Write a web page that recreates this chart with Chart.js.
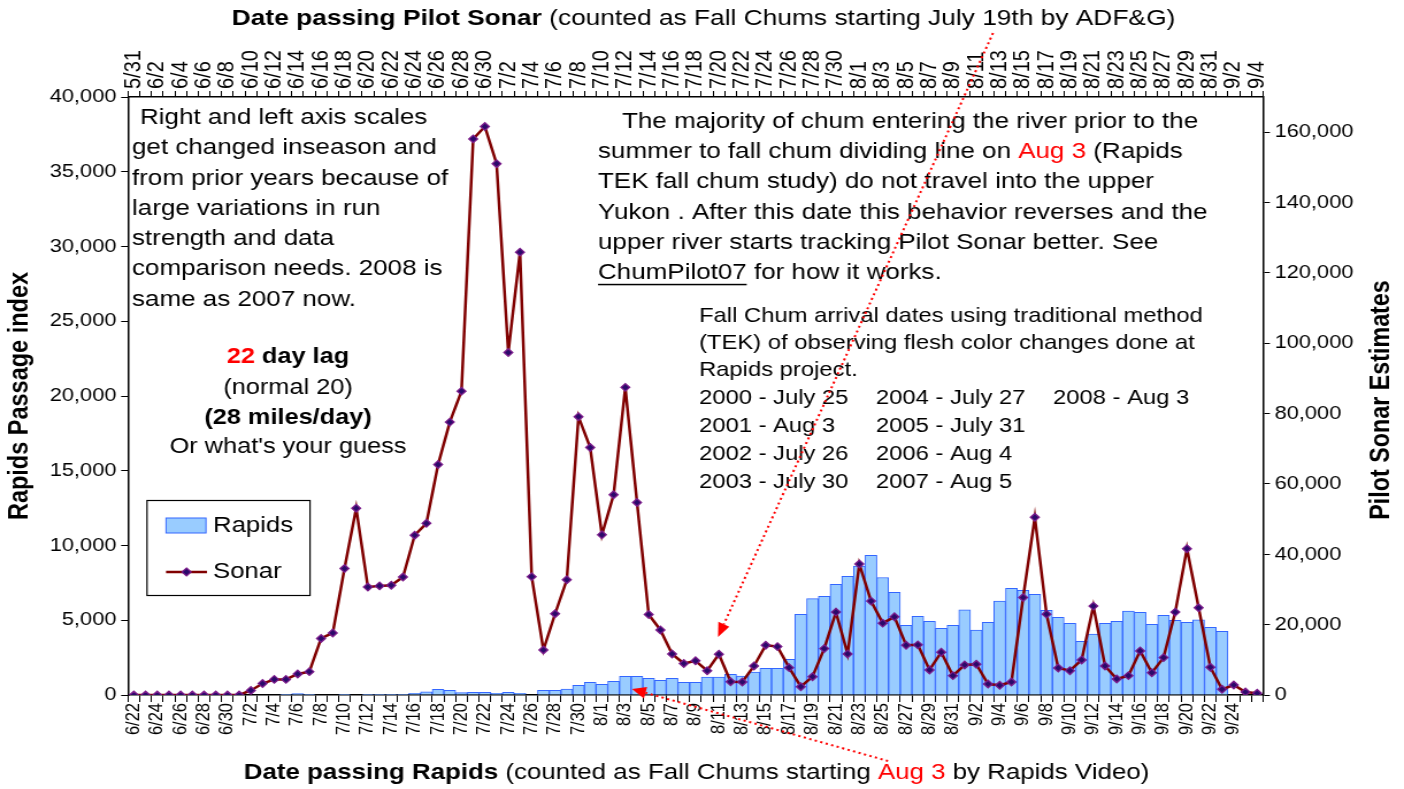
<!DOCTYPE html>
<html><head><meta charset="utf-8">
<script src="https://cdn.jsdelivr.net/npm/chart.js@4/dist/chart.umd.min.js"></script>
<style>html,body{margin:0;padding:0;background:#fff;overflow:hidden}#c{display:block}</style>
</head><body>
<canvas id="c" width="1221" height="789" style="width:1404px;height:789px"></canvas>
<script>
const rapidsDates = ['6/22','6/23','6/24','6/25','6/26','6/27','6/28','6/29','6/30',
 '7/1','7/2','7/3','7/4','7/5','7/6','7/7','7/8','7/9','7/10','7/11','7/12','7/13','7/14','7/15','7/16','7/17','7/18','7/19','7/20','7/21','7/22','7/23','7/24','7/25','7/26','7/27','7/28','7/29','7/30','7/31',
 '8/1','8/2','8/3','8/4','8/5','8/6','8/7','8/8','8/9','8/10','8/11','8/12','8/13','8/14','8/15','8/16','8/17','8/18','8/19','8/20','8/21','8/22','8/23','8/24','8/25','8/26','8/27','8/28','8/29','8/30','8/31',
 '9/1','9/2','9/3','9/4','9/5','9/6','9/7','9/8','9/9','9/10','9/11','9/12','9/13','9/14','9/15','9/16','9/17','9/18','9/19','9/20','9/21','9/22','9/23','9/24','9/25','9/26'];
const sonarDates = ['5/31',
 '6/1','6/2','6/3','6/4','6/5','6/6','6/7','6/8','6/9','6/10','6/11','6/12','6/13','6/14','6/15','6/16','6/17','6/18','6/19','6/20','6/21','6/22','6/23','6/24','6/25','6/26','6/27','6/28','6/29','6/30',
 '7/1','7/2','7/3','7/4','7/5','7/6','7/7','7/8','7/9','7/10','7/11','7/12','7/13','7/14','7/15','7/16','7/17','7/18','7/19','7/20','7/21','7/22','7/23','7/24','7/25','7/26','7/27','7/28','7/29','7/30','7/31',
 '8/1','8/2','8/3','8/4','8/5','8/6','8/7','8/8','8/9','8/10','8/11','8/12','8/13','8/14','8/15','8/16','8/17','8/18','8/19','8/20','8/21','8/22','8/23','8/24','8/25','8/26','8/27','8/28','8/29','8/30','8/31',
 '9/1','9/2','9/3','9/4'];
const rapidsValues = [0,0,0,0,0,0,0,0,0,0,0,0,0,
 40,90,50,0,0,40,0,40,40,40,40,110,220,380,310,155,180,180,110,180,110,0,
 310,310,400,650,850,710,910,1250,1250,1115,980,1115,850,850,1200,1200,1380,1260,1530,1780,1780,2390,
 5400,6450,6600,7400,7940,8620,9350,7860,6870,4660,5260,4930,4460,4660,5690,4350,4860,
 6290,7140,7000,6730,5660,5200,4790,3590,4080,4790,4930,5620,5530,4730,5330,4990,4860,5020,4530,4260,0,0,0];
const sonarValues = [0,0,0,0,0,0,0,0,0,0,
 1300,3250,4440,4440,5980,6640,16070,17640,35950,53100,30680,31020,31220,33530,45410,48800,65500,77580,86380,
 158090,161600,151050,97350,125900,33650,12790,23100,32760,79120,70340,45530,56920,87460,54730,22880,18490,
 11680,8950,9710,6900,11600,3790,3700,8260,14160,13760,7780,2360,5210,13190,23560,11680,37240,26690,20430,
 22220,14160,14250,7120,12160,5500,8550,8740,3130,2760,3700,27720,50510,22990,7690,6920,9970,25270,8260,
 4560,5500,12540,6350,10630,23560,41600,24790,7890,1620,2850,850,480];
const leftTicks = [0,5000,10000,15000,20000,25000,30000,35000,40000];
const rightTicks = [0,20000,40000,60000,80000,100000,120000,140000,160000];

const FAM = "'Liberation Sans', Arial, sans-serif";
const W = 1221, S = 1404 / W;
const X = v => v / S;
const TOPFONT = 20;

function rich(ctx, parts, x, y, align, size) {
  let total = 0;
  parts.forEach(p => { ctx.font = (p.b ? 'bold ' : '') + size + 'px ' + FAM; p.w = ctx.measureText(p.t).width; total += p.w; });
  let cx = align === 'center' ? x - total / 2 : x;
  parts.forEach(p => {
    ctx.font = (p.b ? 'bold ' : '') + size + 'px ' + FAM;
    ctx.fillStyle = p.c || '#000';
    ctx.textAlign = 'left'; ctx.textBaseline = 'middle';
    ctx.fillText(p.t, cx, y);
    if (p.u) ctx.fillRect(cx, y + size * 0.5, p.w, 1.5);
    cx += p.w;
  });
}
function arrow(ctx, x1, y1, x2, y2) {
  ctx.save();
  ctx.strokeStyle = '#FF0000'; ctx.fillStyle = '#FF0000';
  ctx.lineWidth = 2; ctx.setLineDash([2, 3]);
  const dx = x2 - x1, dy = y2 - y1, L = Math.hypot(dx, dy), ux = dx / L, uy = dy / L;
  const hl = 14, hw = 6;
  const bx = x2 - ux * hl, by = y2 - uy * hl;
  ctx.beginPath(); ctx.moveTo(X(x1), y1); ctx.lineTo(X(bx), by); ctx.stroke();
  ctx.setLineDash([]);
  ctx.beginPath();
  ctx.moveTo(X(x2), y2);
  ctx.lineTo(X(bx - uy * hw), by + ux * hw);
  ctx.lineTo(X(bx + uy * hw), by - ux * hw);
  ctx.closePath(); ctx.fill();
  ctx.restore();
}

const annot = {
  id: 'annot',
  afterDraw(chart) {
    const ctx = chart.ctx;
    ctx.save();
    // titles
    rich(ctx, [{t: 'Date passing Pilot Sonar', b: true}, {t: ' (counted as Fall Chums starting July 19th by ADF&G)'}], X(703.5), 19, 'center', 22.9);
    rich(ctx, [{t: 'Date passing Rapids', b: true}, {t: ' (counted as Fall Chums starting '}, {t: 'Aug 3', c: '#FF0000'}, {t: ' by Rapids Video)'}], X(696.5), 773, 'center', 22.5);
    ctx.save(); ctx.translate(X(20), 396); ctx.rotate(-Math.PI / 2);
    rich(ctx, [{t: 'Rapids Passage index', b: true}], 0, 0, 'center', 23.5);
    ctx.restore();
    ctx.save(); ctx.translate(X(1382), 400); ctx.rotate(-Math.PI / 2);
    rich(ctx, [{t: 'Pilot Sonar Estimates', b: true}], 0, 0, 'center', 23.3);
    ctx.restore();
    // block 1
    const F = 22.6;
    const b1 = ['get changed inseason and', 'from prior years because of', 'large variations in run', 'strength and data', 'comparison needs. 2008 is', 'same as 2007 now.'];
    rich(ctx, [{t: 'Right and left axis scales'}], X(140), 118, 'left', F);
    b1.forEach((t, i) => rich(ctx, [{t}], X(132), 148 + i * 30.3, 'left', F));
    // block 2
    rich(ctx, [{t: '22', b: true, c: '#FF0000'}, {t: ' day lag', b: true}], X(288), 357, 'center', 22);
    rich(ctx, [{t: '(normal 20)'}], X(288), 388, 'center', 22);
    rich(ctx, [{t: '(28 miles/day)', b: true}], X(288), 418, 'center', 22);
    rich(ctx, [{t: "Or what's your guess"}], X(288), 447, 'center', 22);
    // block 3
    rich(ctx, [{t: 'The majority of chum entering the river prior to the'}], X(622), 122, 'left', F);
    rich(ctx, [{t: 'summer to fall chum dividing line on '}, {t: 'Aug 3', c: '#FF0000'}, {t: ' (Rapids'}], X(598), 152, 'left', F);
    rich(ctx, [{t: 'TEK fall chum study) do not travel into the upper'}], X(598), 182, 'left', F);
    rich(ctx, [{t: 'Yukon . After this date this behavior reverses and the'}], X(598), 212.5, 'left', F);
    rich(ctx, [{t: 'upper river starts tracking Pilot Sonar better. See'}], X(598), 243, 'left', F);
    rich(ctx, [{t: 'ChumPilot07', u: true}, {t: ' for how it works.'}], X(598), 272.5, 'left', F);
    // block 4
    const F4 = 20.7;
    rich(ctx, [{t: 'Fall Chum arrival dates using traditional method'}], X(699), 316.5, 'left', F4);
    rich(ctx, [{t: '(TEK) of observing flesh color changes done at'}], X(699), 343.5, 'left', F4);
    rich(ctx, [{t: 'Rapids project.'}], X(699), 370, 'left', F4);
    const rows = [['2000 - July 25', '2004 - July 27', '2008 - Aug 3'], ['2001 - Aug 3', '2005 - July 31', ''], ['2002 - July 26', '2006 - Aug 4', ''], ['2003 - July 30', '2007 - Aug 5', '']];
    const cols = [699, 876, 1053];
    rows.forEach((r, i) => r.forEach((t, j) => { if (t) rich(ctx, [{t}], X(cols[j]), 398 + i * 28.2, 'left', F4); }));
    // legend
    ctx.strokeStyle = '#000'; ctx.lineWidth = 1.2;
    ctx.strokeRect(X(147), 500.5, X(310) - X(147), 95);
    ctx.fillStyle = '#99CCFF'; ctx.fillRect(X(166), 518, X(206) - X(166), 15);
    ctx.strokeStyle = '#3366FF'; ctx.lineWidth = 1; ctx.strokeRect(X(166), 518, X(206) - X(166), 15);
    rich(ctx, [{t: 'Rapids'}], X(213), 525.5, 'left', 22.4);
    ctx.strokeStyle = '#800000'; ctx.lineWidth = 2.5;
    ctx.beginPath(); ctx.moveTo(X(166), 572); ctx.lineTo(X(207), 572); ctx.stroke();
    ctx.fillStyle = '#2a0a6a'; ctx.strokeStyle = '#7a1a8a'; ctx.lineWidth = 1.2;
    ctx.beginPath(); ctx.moveTo(X(186.5), 568); ctx.lineTo(X(186.5) + 4, 572); ctx.lineTo(X(186.5), 576); ctx.lineTo(X(186.5) - 4, 572); ctx.closePath(); ctx.fill(); ctx.stroke();
    rich(ctx, [{t: 'Sonar'}], X(213), 572, 'left', 22.4);
    // arrows
    arrow(ctx, 993, 33, 718, 637);
    arrow(ctx, 888, 761, 632, 689);
    ctx.restore();
  }
};

const axisBorder = {display: true, color: '#000', width: 1.5};
const tickGrid = len => ({display: true, drawOnChartArea: false, drawTicks: true, tickLength: len, color: '#000', lineWidth: 1});

new Chart(document.getElementById('c'), {
  type: 'bar',
  data: {
    labels: rapidsDates,
    datasets: [
      {type: 'line', label: 'Sonar', data: sonarValues, xAxisID: 'x', yAxisID: 'y2', borderColor: '#800000', borderWidth: 2.5,
       pointStyle: 'rectRot', pointRadius: 3.8, pointBackgroundColor: '#2a0a6a', pointBorderColor: '#7a1a8a', pointBorderWidth: 1.3, tension: 0, order: 0},
      {type: 'bar', label: 'Rapids', data: rapidsValues, xAxisID: 'x', yAxisID: 'y', backgroundColor: '#99CCFF', borderColor: '#3366FF', borderWidth: 1,
       categoryPercentage: 1, barPercentage: 1, order: 1}
    ]
  },
  options: {
    responsive: false, animation: false, devicePixelRatio: 1,
    layout: {padding: 0},
    plugins: {legend: {display: false}, tooltip: {enabled: false}},
    scales: {
      x: {position: 'bottom', offset: true, grid: Object.assign(tickGrid(7), {offset: true}), border: axisBorder,
          ticks: {autoSkip: false, minRotation: 90, maxRotation: 90, padding: 1, color: '#000', font: {family: FAM, size: 16.5},
                  callback: (v, i) => (i % 2 === 0 && i < 96) ? rapidsDates[i] : ''},
          afterFit: s => { s.height = 94; }},
      x2: {type: 'category', labels: sonarDates, bounds: 'ticks', position: 'top', offset: true, grid: Object.assign(tickGrid(6), {offset: true}), border: axisBorder,
          ticks: {autoSkip: false, minRotation: 90, maxRotation: 90, padding: 2, labelOffset: TOPFONT * 1.2, color: '#000', font: {family: FAM, size: TOPFONT},
                  callback: (v, i) => (i % 2 === 0) ? sonarDates[i] : ''},
          afterFit: s => { s.height = 97; }},
      y: {position: 'left', min: 0, max: 40000, grid: tickGrid(6), border: axisBorder,
          ticks: {padding: 4, color: '#000', font: {family: FAM, size: 19}},
          afterBuildTicks: s => { s.ticks = leftTicks.map(v => ({value: v})); },
          afterFit: s => { s.width = 128 / S; }},
      y2: {position: 'right', min: 0, max: 170000, grid: tickGrid(6), border: axisBorder,
          ticks: {padding: 4, color: '#000', font: {family: FAM, size: 19}},
          afterBuildTicks: s => { s.ticks = rightTicks.map(v => ({value: v})); },
          afterFit: s => { s.width = 141 / S; }}
    }
  },
  plugins: [annot]
});
</script>
</body></html>
